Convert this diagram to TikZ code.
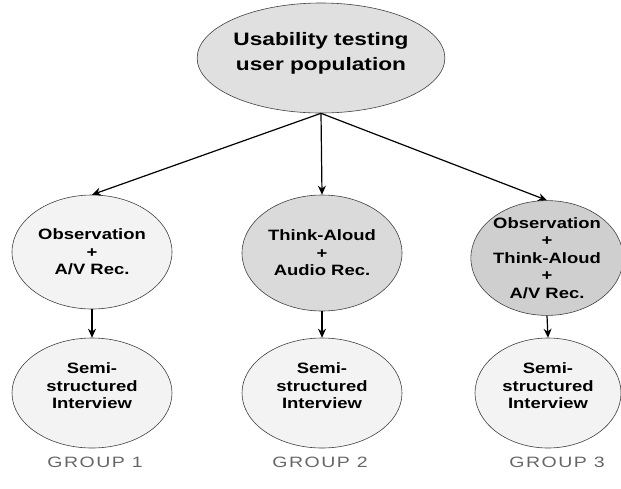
\documentclass[tikz,border=0pt]{standalone}
\usepackage{fontspec}
\setmainfont{Liberation Sans}
\newfontfamily\widefont[FakeStretch=1.23]{Liberation Sans}
\newfontfamily\topfont[FakeStretch=1.26]{Liberation Sans}
\newfontfamily\grpfont[FakeStretch=1.3,LetterSpace=10]{Liberation Sans}
\usetikzlibrary{shapes.geometric,arrows.meta}
\definecolor{topfill}{HTML}{E0E0E0}
\definecolor{lightfill}{HTML}{F3F3F3}
\definecolor{midfill}{HTML}{DADADA}
\definecolor{darkfill}{HTML}{CFCFCF}
\definecolor{grouptext}{HTML}{666666}
\begin{document}
\begin{tikzpicture}[x=1pt,y=-1pt,
  bub/.style={ellipse,draw=black!75,line width=0.6pt,inner sep=0pt,align=center,
    font=\widefont\bfseries\fontsize{15}{17.5}\selectfont},
  arr/.style={-{Stealth[length=9pt,width=8pt]},line width=1.2pt},
  grp/.style={font=\grpfont\fontsize{15}{16}\selectfont,text=grouptext}]
\useasboundingbox (0,0) rectangle (621,488);
\node[bub,minimum width=198pt,minimum height=110pt,fill=topfill,
  font=\topfont\bfseries\fontsize{18}{25}\selectfont] (top) at (321,58) {\mbox{}\\[-21pt]Usability testing\\user population};
\node[bub,minimum width=160pt,minimum height=114pt,fill=lightfill] (ml) at (92,252) {Observation\\+\\A/V Rec.};
\node[bub,minimum width=160pt,minimum height=116pt,fill=midfill] (mc) at (322,253) {Think-Aloud\\+\\Audio Rec.};
\node[bub,minimum width=146pt,minimum height=110pt,fill=darkfill] (mr) at (547,258) {Observation\\+\\Think-Aloud\\+\\A/V Rec.};
\node[bub,minimum width=160pt,minimum height=110pt,fill=lightfill] (bl) at (92,393) {Semi-\\structured\\Interview\\[-3.5pt]\mbox{}};
\node[bub,minimum width=160pt,minimum height=110pt,fill=lightfill] (bc) at (322,393) {Semi-\\structured\\Interview\\[-3.5pt]\mbox{}};
\node[bub,minimum width=146pt,minimum height=110pt,fill=lightfill] (br) at (548,393) {Semi-\\structured\\Interview\\[-3.5pt]\mbox{}};
\node[grp] (g1) at (95,462) {GROUP 1};
\node[grp] (g2) at (320,462) {GROUP 2};
\node[grp] (g3) at (557,462) {GROUP 3};
\draw[arr] (top.south) -- (ml.north);
\draw[arr] (top.south) -- (mc.north);
\draw[arr] (top.south) -- (mr.north);
\draw[arr] (ml.south) -- (bl.north);
\draw[arr] (mc.south) -- (bc.north);
\draw[arr] (mr.south) -- (br.north);
\end{tikzpicture}
\end{document}
